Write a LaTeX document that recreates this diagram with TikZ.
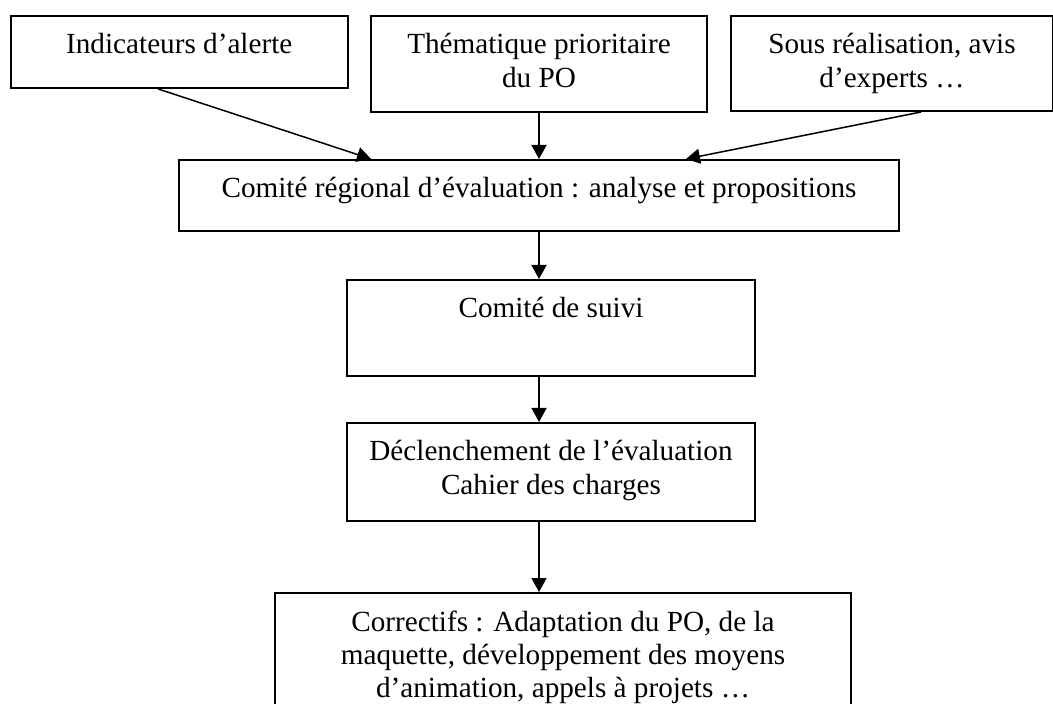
\documentclass[tikz,border=0pt]{standalone}
\usepackage{fontspec}
\setmainfont{Liberation Serif}
\usetikzlibrary{arrows.meta}
% text of a box: fixed size, set from the top
\newcommand{\cadre}[3]{\parbox[t][#2][t]{#1}{\centering\rule{0pt}{19pt}#3}}

\begin{document}
\begin{tikzpicture}[x=0.5pt,y=-0.5pt,
  boite/.style={draw,line width=1pt,inner sep=0pt,anchor=north west,font=\fontsize{14.6}{16.6}\selectfont},
  fleche/.style={line width=0.75pt,-{Triangle[length=7pt,width=7.5pt]}}]
\useasboundingbox (0,0) rectangle (1053,704);
\clip (0,0) rectangle (1053,704); % last box runs off the page

% top row
\node[boite] (alerte) at (9.5,15) {\cadre{168.75pt}{36pt}{Indicateurs d’alerte}};
\node[boite] (theme) at (370,15) {\cadre{168pt}{48pt}{Thématique prioritaire\\du PO}};
\node[boite] (experts) at (730,15) {\cadre{161pt}{47.5pt}{Sous réalisation, avis\\d’experts …}};

% the chain
\node[boite] (comite) at (178,159) {\cadre{360pt}{35.5pt}{Comité régional d’évaluation : analyse et propositions}};
\node[boite] (suivi) at (346,279) {\cadre{204pt}{48pt}{Comité de suivi}};
\node[boite] (declenche) at (346,422) {\cadre{204pt}{49pt}{Déclenchement de l’évaluation\\Cahier des charges}};
\node[boite] (correctifs) at (274,592) {\cadre{288pt}{62pt}{Correctifs : Adaptation du PO, de la\\maquette, développement des moyens\\d’animation, appels à projets …}};

% arrows
\draw[fleche] ([xshift=-10.5pt]alerte.south) -- ([xshift=-84pt]comite.north);
\draw[fleche] (theme.south) -- (theme.south |- comite.north);
\draw[fleche] ([xshift=14.5pt]experts.south) -- ([xshift=73.5pt]comite.north);
\draw[fleche] (comite.south) -- (comite.south |- suivi.north);
\draw[fleche] (comite.south |- suivi.south) -- (comite.south |- declenche.north);
\draw[fleche] (comite.south |- declenche.south) -- (comite.south |- correctifs.north);
\end{tikzpicture}
\end{document}
